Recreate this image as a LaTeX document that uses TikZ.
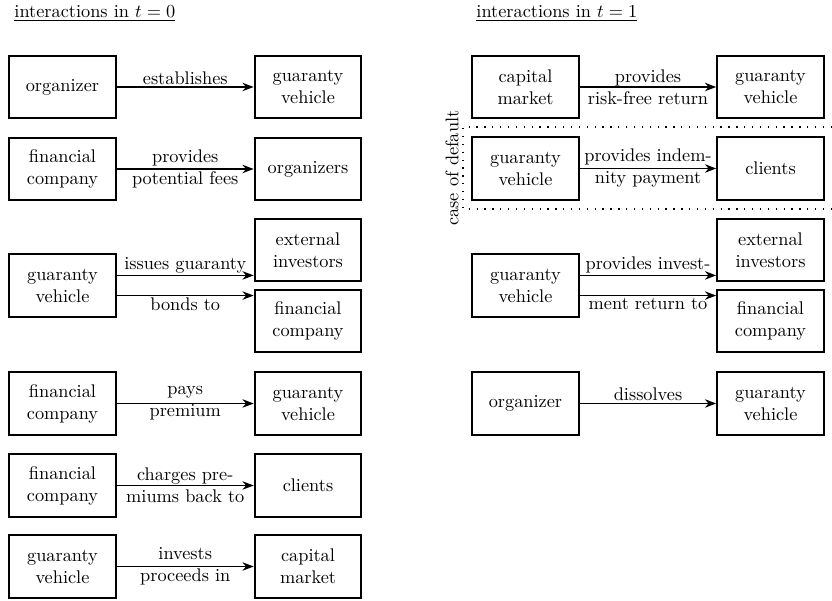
\documentclass[tikz,border=0pt]{standalone}
\usepackage{tikz}
\usetikzlibrary{arrows.meta, positioning}

\begin{document}
\begin{tikzpicture}[x=0.0192cm, y=-0.0192cm, >=Stealth,
    party/.style={draw, line width=1pt, align=center, minimum width=2.05cm, minimum height=1.2cm, inner sep=2pt},
    flow/.style={->, line width=0.7pt},
    note/.style={align=center, inner sep=1pt}]
    \useasboundingbox (0,0) rectangle (832,601);

    % t = 0
    \node[anchor=base west] (title0) at (8,18) {\underline{interactions in $t=0$}};

    \node[party] (org0) at (62.5,87) {organizer};
    \node[party] (gv0) at (308,87) {guaranty\\vehicle};
    \draw[flow] (org0) -- (gv0) node[midway, above, note] {establishes};

    \node[party] (fc1) at (62.5,169) {financial\\company};
    \node[party] (orgs1) at (308,169) {organizers};
    \draw[flow] (fc1) -- (orgs1) node[midway, note] {provides\\potential fees};

    \node[party] (gv2) at (62.5,285.5) {guaranty\\vehicle};
    \node[party] (ext2) at (308,250) {external\\investors};
    \node[party] (fc2) at (308,321) {financial\\company};
    \draw[flow] ([yshift=5.5pt]gv2.east) -- ([yshift=5.5pt]gv2.east -| ext2.west) node[midway, above, note] {issues guaranty};
    \draw[flow] ([yshift=-5.5pt]gv2.east) -- ([yshift=-5.5pt]gv2.east -| fc2.west) node[midway, below, note] {bonds to};

    \node[party] (fc3) at (62.5,403.5) {financial\\company};
    \node[party] (gv3) at (308,403.5) {guaranty\\vehicle};
    \draw[flow] (fc3) -- (gv3) node[midway, note] {pays\\premium};

    \node[party] (fc4) at (62.5,485.5) {financial\\company};
    \node[party] (cl4) at (308,485.5) {clients};
    \draw[flow] (fc4) -- (cl4) node[midway, note] {charges pre-\\miums back to};

    \node[party] (gv5) at (62.5,566.5) {guaranty\\vehicle};
    \node[party] (cm5) at (308,566.5) {capital\\market};
    \draw[flow] (gv5) -- (cm5) node[midway, note] {invests\\proceeds in};

    % t = 1
    \node[anchor=base west] (title1) at (470,18) {\underline{interactions in $t=1$}};

    \node[party] (cm6) at (525.5,87) {capital\\market};
    \node[party] (gv6) at (770.5,87) {guaranty\\vehicle};
    \draw[flow] (cm6) -- (gv6) node[midway, note] {provides\\risk-free return};

    \draw[line width=0.7pt, dash pattern=on 0.7pt off 3.6pt] (832,127) -- (463,127) -- (463,209) -- (832,209);
    \node[rotate=90] (dflt) at (452,168) {case of default};

    \node[party] (gv7) at (525.5,168.5) {guaranty\\vehicle};
    \node[party] (cl7) at (770.5,168.5) {clients};
    \draw[flow] (gv7) -- (cl7) node[midway, note] {provides indem-\\nity payment};

    \node[party] (gv8) at (525.5,285.5) {guaranty\\vehicle};
    \node[party] (ext8) at (770.5,250) {external\\investors};
    \node[party] (fc8) at (770.5,321) {financial\\company};
    \draw[flow] ([yshift=5.5pt]gv8.east) -- ([yshift=5.5pt]gv8.east -| ext8.west) node[midway, above, note] {provides invest-};
    \draw[flow] ([yshift=-5.5pt]gv8.east) -- ([yshift=-5.5pt]gv8.east -| fc8.west) node[midway, below, note] {ment return to};

    \node[party] (org9) at (525.5,403.5) {organizer};
    \node[party] (gv9) at (770.5,403.5) {guaranty\\vehicle};
    \draw[flow] (org9) -- (gv9) node[midway, above, note] {dissolves};
\end{tikzpicture}
\end{document}
